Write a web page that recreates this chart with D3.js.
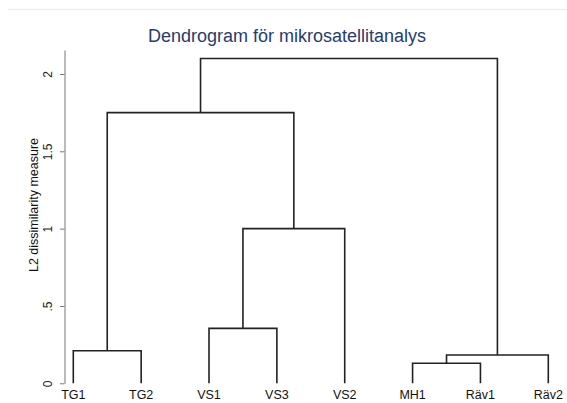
<!DOCTYPE html>
<html>
<head>
<meta charset="utf-8">
<script src="https://cdn.jsdelivr.net/npm/d3@7"></script>
<style>
  html, body { margin: 0; padding: 0; background: #fff; }
  svg { display: block; font-family: "Liberation Sans", Arial, sans-serif; }
</style>
</head>
<body>
<svg id="chart"></svg>
<script>
// leaves in plotting order
const leaves = ["TG1", "TG2", "VS1", "VS3", "VS2", "MH1", "Räv1", "Räv2"];
// merges: ids 0..7 are leaves, merge k gets id leaves.length + k
const mergeLeft   = [0, 2, 9, 5, 11, 8, 13];
const mergeRight  = [1, 3, 4, 6, 7, 10, 12];
const mergeHeight = [0.21, 0.355, 1.0, 0.13, 0.183, 1.75, 2.1];
const tickValues = [0, 0.5, 1, 1.5, 2];
const tickLabels = ["0", ".5", "1", "1.5", "2"];

const width = 567, height = 403;
const margin = {top: 50, right: 19, bottom: 20, left: 64.5};

const svg = d3.select("#chart").attr("width", width).attr("height", height);

// faint rule at the top of the page
svg.append("line")
    .attr("x1", 8).attr("x2", width)
    .attr("y1", 9.5).attr("y2", 9.5)
    .attr("stroke", "#eaf0f0").attr("stroke-width", 1.5);

const x = d3.scalePoint()
    .domain(leaves)
    .range([73.3, 548.3]);

const y = d3.scaleLinear()
    .domain([0, 2.155])
    .range([383.3, margin.top]);

// build node positions
const nodeX = leaves.map(d => x(d));
const nodeY = leaves.map(() => y(0));
mergeHeight.forEach((h, i) => {
    nodeX.push((nodeX[mergeLeft[i]] + nodeX[mergeRight[i]]) / 2);
    nodeY.push(y(h));
});

const links = svg.append("g")
    .attr("fill", "none")
    .attr("stroke", "#222")
    .attr("stroke-width", 1.6)
    .attr("stroke-linejoin", "miter");

links.selectAll("path")
    .data(mergeHeight)
    .enter().append("path")
      .attr("d", (h, i) => {
          const a = mergeLeft[i], b = mergeRight[i], yy = y(h);
          return `M${nodeX[a]},${nodeY[a]}V${yy}H${nodeX[b]}V${nodeY[b]}`;
      });

// y axis
const yAxis = g => {
    g.attr("transform", `translate(${margin.left},0)`)
     .call(d3.axisLeft(y).tickValues(tickValues)
            .tickFormat((d, i) => tickLabels[i])
            .tickSize(4.5).tickSizeOuter(0));
    g.select(".domain").attr("stroke", "#777");
    g.selectAll(".tick line").attr("stroke", "#777");
    g.selectAll(".tick text")
        .attr("x", null).attr("dy", null)
        .attr("transform", "translate(-12.5,0) rotate(-90)")
        .attr("text-anchor", "middle")
        .attr("fill", "#222")
        .style("font-size", "12px");
};
svg.append("g").call(yAxis);

svg.append("text")
    .attr("transform", "translate(38,205) rotate(-90)")
    .attr("text-anchor", "middle")
    .attr("fill", "#111")
    .style("font-size", "12.5px")
    .text("L2 dissimilarity measure");

// leaf labels
svg.append("g")
    .selectAll("text")
    .data(leaves)
    .enter().append("text")
      .attr("x", d => x(d))
      .attr("y", 399)
      .attr("text-anchor", "middle")
      .attr("fill", "#111")
      .style("font-size", "12.5px")
      .text(d => d);

// title
svg.append("text")
    .attr("x", 287)
    .attr("y", 42)
    .attr("text-anchor", "middle")
    .attr("fill", "#283c6c")
    .style("font-size", "18px")
    .text("Dendrogram för mikrosatellitanalys");
</script>
</body>
</html>
